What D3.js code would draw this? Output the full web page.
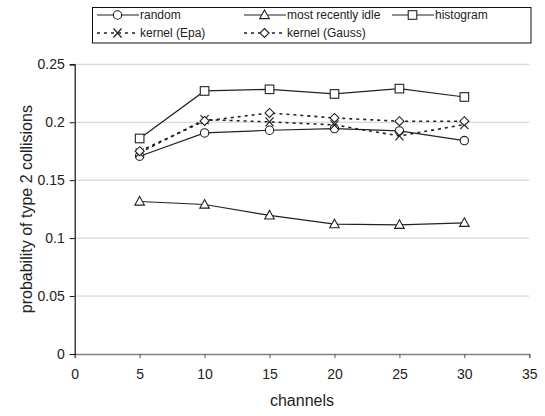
<!DOCTYPE html>
<html>
<head>
<meta charset="utf-8">
<script src="https://cdn.jsdelivr.net/npm/d3@7"></script>
<style>
  body { margin: 0; background: #fff; }
  svg { display: block; font-family: "Liberation Sans", Arial, sans-serif; }
</style>
</head>
<body>
<svg id="chart" width="545" height="416"></svg>
<script>
// Probability of type 2 collisions versus number of channels
const channels = [5, 10, 15, 20, 25, 30];
const randomVals = [0.1707, 0.1908, 0.1931, 0.1945, 0.1925, 0.1842];
const mostRecentlyIdle = [0.1316, 0.129, 0.1196, 0.112, 0.1115, 0.1132];
const histogramVals = [0.186, 0.227, 0.2284, 0.2244, 0.229, 0.2218];
const kernelEpa = [0.1736, 0.2023, 0.2003, 0.1977, 0.1882, 0.198];
const kernelGauss = [0.175, 0.2011, 0.208, 0.2037, 0.2009, 0.2009];
const xTicks = [0, 5, 10, 15, 20, 25, 30, 35];
const yTicks = [0, 0.05, 0.1, 0.15, 0.2, 0.25];

const series = [
  { name: "random", values: randomVals, marker: "circle", dash: null },
  { name: "most recently idle", values: mostRecentlyIdle, marker: "triangle", dash: null },
  { name: "histogram", values: histogramVals, marker: "square", dash: null },
  { name: "kernel (Epa)", values: kernelEpa, marker: "cross", dash: "3,4" },
  { name: "kernel (Gauss)", values: kernelGauss, marker: "diamond", dash: "3,4" }
];

const svg = d3.select("#chart");
const plotLeft = 74.7, plotRight = 529.3, plotTop = 64.3, plotBottom = 354;
const x = d3.scaleLinear().domain([0, 35]).range([plotLeft, plotRight]);
const y = d3.scaleLinear().domain([0, 0.25]).range([plotBottom, plotTop]);
const ink = "#222";

// gridlines
svg.append("g")
  .selectAll("line")
  .data(yTicks.filter(d => d > 0))
  .join("line")
  .attr("x1", plotLeft).attr("x2", plotRight)
  .attr("y1", d => y(d)).attr("y2", d => y(d))
  .attr("stroke", "#cfcfcf").attr("stroke-width", 1);

// x axis
const xAxis = svg.append("g")
  .attr("transform", `translate(0,${plotBottom})`)
  .call(d3.axisBottom(x).tickValues(xTicks).tickFormat(d3.format("d")).tickSize(4).tickPadding(11));
xAxis.select(".domain").attr("stroke", "#808080").attr("stroke-width", 1.3);
xAxis.selectAll(".tick line").attr("stroke", "#555");
xAxis.selectAll("text").attr("font-size", 14).attr("fill", "#222")
  .attr("font-family", "Liberation Sans, Arial, sans-serif");

// y axis
const yAxis = svg.append("g")
  .attr("transform", `translate(${plotLeft},0)`)
  .call(d3.axisLeft(y).tickValues(yTicks).tickFormat(d => String(+d.toFixed(2))).tickSize(5).tickPadding(5));
yAxis.select(".domain").attr("stroke", "#111").attr("stroke-width", 1.2);
yAxis.selectAll(".tick line").attr("stroke", "#111");
yAxis.selectAll("text").attr("font-size", 14).attr("fill", "#222")
  .attr("font-family", "Liberation Sans, Arial, sans-serif");

// axis titles
svg.append("text")
  .attr("x", (plotLeft + plotRight) / 2).attr("y", 406)
  .attr("text-anchor", "middle").attr("font-size", 16).attr("fill", "#222")
  .text("channels");
svg.append("text")
  .attr("transform", `translate(32,${(plotTop + plotBottom) / 2}) rotate(-90)`)
  .attr("text-anchor", "middle").attr("font-size", 16).attr("fill", "#222")
  .text("probability of type 2 collisions");

// marker drawing
function drawMarker(g, type, cx, cy) {
  const common = el => el.attr("fill", "#fff").attr("stroke", ink).attr("stroke-width", 1.1);
  if (type === "circle") {
    common(g.append("circle").attr("cx", cx).attr("cy", cy).attr("r", 4.2));
  } else if (type === "square") {
    common(g.append("rect").attr("x", cx - 4.3).attr("y", cy - 4.3).attr("width", 8.6).attr("height", 8.6));
  } else if (type === "triangle") {
    common(g.append("path").attr("d", `M${cx},${cy - 5} L${cx + 4.8},${cy + 3.6} L${cx - 4.8},${cy + 3.6} Z`));
  } else if (type === "diamond") {
    common(g.append("path").attr("d", `M${cx},${cy - 4.5} L${cx + 4.5},${cy} L${cx},${cy + 4.5} L${cx - 4.5},${cy} Z`));
  } else if (type === "cross") {
    g.append("path").attr("d", `M${cx - 4},${cy - 4.5} L${cx + 4},${cy + 4.5} M${cx + 4},${cy - 4.5} L${cx - 4},${cy + 4.5}`)
      .attr("stroke", ink).attr("stroke-width", 1.2).attr("fill", "none");
  }
}

const line = d3.line().x(d => x(d[0])).y(d => y(d[1]));

// lines first, then markers on top
const plot = svg.append("g");
series.forEach(s => {
  const pts = channels.map((c, i) => [c, s.values[i]]);
  plot.append("path")
    .attr("d", line(pts))
    .attr("fill", "none").attr("stroke", ink).attr("stroke-width", s.dash ? 1.6 : 1.2)
    .attr("stroke-dasharray", s.dash);
});
series.forEach(s => {
  const g = plot.append("g");
  channels.forEach((c, i) => drawMarker(g, s.marker, x(c), y(s.values[i])));
});

// legend
const legend = svg.append("g");
legend.append("rect")
  .attr("x", 92.5).attr("y", 7.5).attr("width", 438.5).attr("height", 35.5)
  .attr("fill", "#fff").attr("stroke", "#111").attr("stroke-width", 1);
const legendPos = [
  { x: 97, y: 15 }, { x: 244, y: 15 }, { x: 392, y: 15 },
  { x: 97, y: 33 }, { x: 244, y: 33 }
];
series.forEach((s, i) => {
  const p = legendPos[i];
  const g = legend.append("g");
  g.append("line")
    .attr("x1", p.x).attr("x2", p.x + 42).attr("y1", p.y).attr("y2", p.y)
    .attr("stroke", ink).attr("stroke-width", s.dash ? 1.6 : 1.2)
    .attr("stroke-dasharray", s.dash);
  drawMarker(g, s.marker, p.x + 20.5, p.y);
  g.append("text")
    .attr("x", p.x + 43).attr("y", p.y + 4.3)
    .attr("font-size", 12).attr("fill", "#222")
    .text(s.name);
});
</script>
</body>
</html>
